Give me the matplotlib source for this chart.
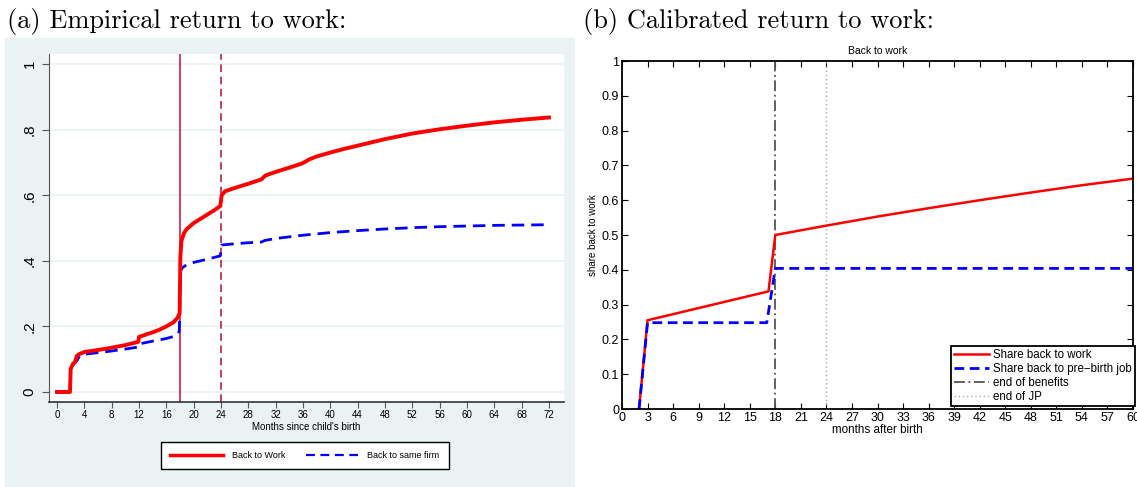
import matplotlib.pyplot as plt
from matplotlib.patches import Rectangle

# (a) empirical return to work, months since birth
emp_months = [0, 1.9, 2.0, 2.3, 2.6, 2.9, 3.2, 4, 6, 8, 10, 11.9, 12.0, 13, 14, 15, 16, 17,
              17.6, 17.95, 18.05, 18.2, 18.6, 19, 20, 21, 22, 23, 23.9, 24.1, 24.6, 26, 28,
              29.9, 30.5, 32, 34, 35.9, 37, 38, 40, 42, 44, 48, 52, 56, 60, 64, 68, 72]
work_emp = [0, 0, 0.07, 0.085, 0.09, 0.11, 0.115, 0.122, 0.128, 0.135, 0.143, 0.153, 0.168,
            0.175, 0.182, 0.19, 0.2, 0.212, 0.225, 0.24, 0.41, 0.46, 0.485, 0.497, 0.515,
            0.528, 0.541, 0.554, 0.567, 0.6, 0.612, 0.622, 0.635, 0.648, 0.66, 0.671, 0.684,
            0.697, 0.71, 0.718, 0.73, 0.741, 0.751, 0.771, 0.788, 0.801, 0.812, 0.822, 0.83,
            0.837]
firm_months = [0, 1.9, 2.0, 2.4, 2.9, 3.3, 4, 6, 8, 10, 11.9, 12.1, 14, 16, 17.5, 17.9, 18.0,
               18.1, 18.4, 19, 20, 22, 23.9, 24.1, 26, 28, 29.9, 30.4, 32, 36, 40, 44, 48,
               52, 56, 60, 64, 68, 72]
firm_emp = [0, 0, 0.06, 0.085, 0.095, 0.11, 0.115, 0.12, 0.125, 0.131, 0.137, 0.147, 0.155,
            0.163, 0.172, 0.185, 0.3, 0.37, 0.38, 0.388, 0.395, 0.405, 0.415, 0.448, 0.452,
            0.455, 0.457, 0.462, 0.468, 0.478, 0.486, 0.492, 0.497, 0.501, 0.504, 0.506,
            0.508, 0.509, 0.51]

# (b) calibrated return to work
cal_months = [2, 3, 17.2, 18, 24, 30, 36, 42, 48, 54, 60]
work_cal = [0, 0.255, 0.338, 0.5, 0.527, 0.553, 0.577, 0.6, 0.622, 0.643, 0.662]
firm_cal_months = [2, 3, 17, 18, 60]
firm_cal = [0, 0.248, 0.248, 0.404, 0.404]

fig = plt.figure(figsize=(11.37, 4.87), dpi=100)
W, H = 1137, 487

# stata-style gray backdrop behind panel (a)
fig.patches.append(Rectangle((5 / W, 0), 570 / W, (487 - 38) / H, transform=fig.transFigure,
                             facecolor='#eaf2f3', edgecolor='none', zorder=-1))

serif = {'family': 'cmr10', 'size': 19}
fig.text(7 / W, 1 - 28 / H, '(a) Empirical return to work:', **serif)
fig.text(583 / W, 1 - 28 / H, '(b) Calibrated return to work:', **serif)

# ---- panel (a)
ax1 = fig.add_axes([49 / W, 85 / H, 515 / W, 348 / H], zorder=2)
ax1.set_facecolor('white')
for y in [0, 0.2, 0.4, 0.6, 0.8, 1.0]:
    ax1.axhline(y, color='#eaf2f3', lw=1.2, zorder=1)
ax1.axvline(18, color='#c8102e', lw=1.1, zorder=2)
ax1.axvline(24, color='#b0102e', lw=1.1, ls=(0, (5, 3)), zorder=2)
ax1.plot(firm_months, firm_emp, color='blue', lw=2.0, ls=(0, (4.5, 2.5)), zorder=3)
ax1.plot(emp_months, work_emp, color='red', lw=2.8, zorder=4)
ax1.set_xlim(-1.17, 74.2)
ax1.set_ylim(-0.0305, 1.0305)
ax1.set_xticks(range(0, 73, 4))
ax1.set_yticks([0, 0.2, 0.4, 0.6, 0.8, 1])
ax1.set_yticklabels(['0', '.2', '.4', '.6', '.8', '1'], rotation=90, va='center',
                    fontsize=11, family='Liberation Sans')
ax1.tick_params(axis='x', labelsize=7, length=4, color='#555555', pad=2)
ax1.tick_params(axis='y', length=5, color='#555555', pad=4)
for lab in ax1.get_xticklabels():
    lab.set_family('Liberation Sans')
ax1.spines['top'].set_visible(False)
ax1.spines['right'].set_visible(False)
ax1.spines['left'].set_color('#555555')
ax1.spines['bottom'].set_color('#333333')
ax1.spines['bottom'].set_linewidth(1.2)
ax1.set_xlabel("Months since child's birth", fontsize=7, family='Liberation Sans', labelpad=1)

leg1 = fig.legend(handles=[plt.Line2D([], [], color='red', lw=2.5),
                           plt.Line2D([], [], color='blue', lw=1.6, ls=(0, (4, 2.5)))],
                  labels=['Back to Work', 'Back to same firm'], ncol=2,
                  loc='center', bbox_to_anchor=(305 / W, 1 - 455.5 / H),
                  prop={'family': 'Liberation Sans', 'size': 6.5}, frameon=True,
                  fancybox=False, edgecolor='black', handlelength=5.8, columnspacing=2.3,
                  borderpad=1.0, handletextpad=1.0, framealpha=1)
leg1.get_frame().set_linewidth(1.0)

# ---- panel (b)
ax2 = fig.add_axes([622 / W, 78 / H, 511 / W, 348 / H])
ax2.axvline(18, color='#555555', lw=1.3, ls=(0, (6, 2, 1, 2)), label='end of benefits')
ax2.axvline(24, color='#aaaaaa', lw=1.0, ls=(0, (1, 2)), label='end of JP')
ax2.plot(cal_months, work_cal, color='red', lw=1.8, label='Share back to work')
ax2.plot(firm_cal_months, firm_cal, color='blue', lw=2.0, ls=(0, (3.5, 2)),
         label='Share back to pre\u2212birth job')
ax2.set_xlim(0, 60)
ax2.set_ylim(0, 1)
ax2.set_xticks(range(0, 61, 3))
ax2.set_yticks([i / 10 for i in range(11)])
ax2.set_yticklabels(['0'] + ['0.%d' % i for i in range(1, 10)] + ['1'])
ax2.tick_params(direction='in', top=True, right=True, length=4, width=0.8,
                labelsize=9, pad=2)
for lab in ax2.get_xticklabels() + ax2.get_yticklabels():
    lab.set_family('Liberation Sans')
for s in ax2.spines.values():
    s.set_linewidth(1.3)
ax2.set_title('Back to work', fontsize=7.5, family='Liberation Sans', pad=5)
ax2.set_xlabel('months after birth', fontsize=8.4, family='Liberation Sans', labelpad=0)
ax2.set_ylabel('share back to work', fontsize=7, family='Liberation Sans', labelpad=3)
h, l = ax2.get_legend_handles_labels()
leg2 = ax2.legend([h[2], h[3], h[0], h[1]], [l[2], l[3], l[0], l[1]], loc='lower right',
                  bbox_to_anchor=(1.004, 0.008),
                  prop={'family': 'Liberation Sans', 'size': 8.3}, fancybox=False,
                  edgecolor='black', framealpha=1, handlelength=3.0, borderpad=0.25,
                  labelspacing=0.18, handletextpad=0.4, borderaxespad=0.0)
leg2.get_frame().set_linewidth(1.3)

fig.savefig('out.png', dpi=100)
